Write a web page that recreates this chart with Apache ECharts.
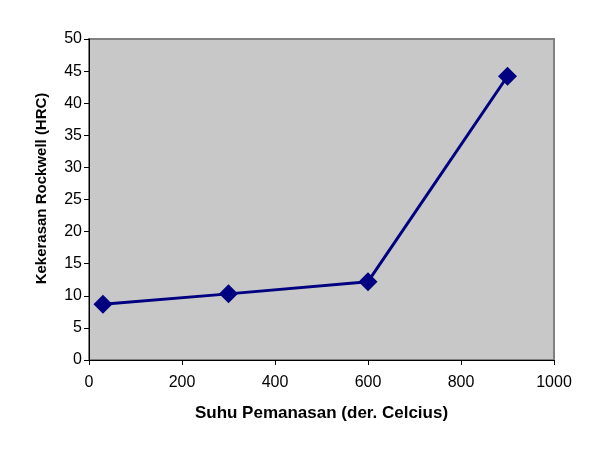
<!DOCTYPE html>
<html><head><meta charset="utf-8">
<script src="https://cdn.jsdelivr.net/npm/echarts@6/dist/echarts.min.js"></script>
<style>html,body{margin:0;padding:0;background:#fff}#c{width:600px;height:456px}</style>
</head><body><div id="c"></div>
<script>
const xValues = [30, 300, 600, 900];
const yValues = [8.7, 10.3, 12.2, 44.2];
const xTicks = [0, 200, 400, 600, 800, 1000];
const yTicks = [0, 5, 10, 15, 20, 25, 30, 35, 40, 45, 50];
const xName = 'Suhu Pemanasan (der. Celcius)';
const yName = 'Kekerasan Rockwell (HRC)';

const chart = echarts.init(document.getElementById('c'));
const font = 'Liberation Sans, Arial, sans-serif';
chart.setOption({
  animation: false,
  grid: {left: 89, right: 46, top: 39, bottom: 96, show: true, backgroundColor: '#c8c8c8', borderColor: '#808080', borderWidth: 2},
  xAxis: {
    type: 'value', min: xTicks[0], max: xTicks[xTicks.length-1], interval: 200,
    name: xName, nameLocation: 'middle', nameGap: 45,
    nameTextStyle: {fontFamily: font, fontSize: 17, fontWeight: 'bold', color: '#000'},
    axisLine: {show: true, onZero: false, lineStyle: {color: '#000', width: 1}},
    axisTick: {show: true, inside: false, length: 5, lineStyle: {color: '#000'}},
    axisLabel: {fontFamily: font, fontSize: 16, color: '#000', margin: 15, formatter: v => String(v)},
    splitLine: {show: false}
  },
  yAxis: {
    type: 'value', min: yTicks[0], max: yTicks[yTicks.length-1], interval: 5,
    name: yName, nameLocation: 'middle', nameGap: 40,
    nameTextStyle: {fontFamily: font, fontSize: 15, fontWeight: 'bold', color: '#000', padding: [0, 0, 0, 22]},
    axisLine: {show: true, onZero: false, lineStyle: {color: '#000', width: 1}},
    axisTick: {show: true, inside: false, length: 5, lineStyle: {color: '#000'}},
    axisLabel: {fontFamily: font, fontSize: 16, color: '#000', margin: 7, formatter: v => String(v)},
    splitLine: {show: false}
  },
  series: [{
    type: 'line',
    data: xValues.map((x, i) => [x, yValues[i]]),
    symbol: 'diamond', symbolSize: 19,
    lineStyle: {color: '#000080', width: 3},
    itemStyle: {color: '#000080'}
  }]
});
</script></body></html>
